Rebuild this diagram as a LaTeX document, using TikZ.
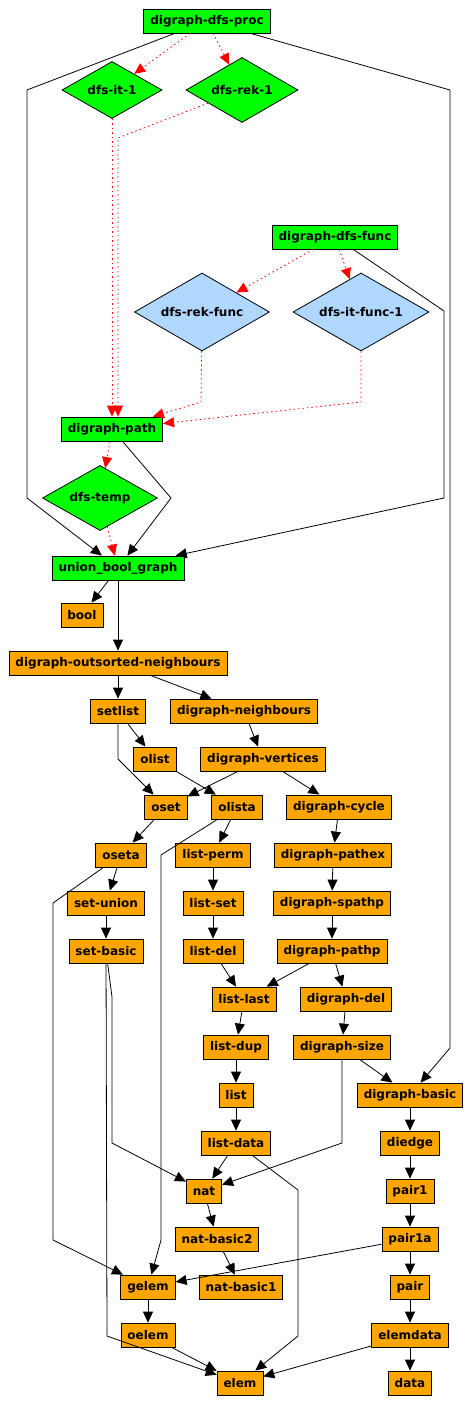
\documentclass[tikz,border=0pt]{standalone}
\usepackage{fontspec}
\setmainfont{DejaVu Sans}
\usepackage{tikz}
\usetikzlibrary{arrows.meta,shapes.geometric}
\definecolor{modgreen}{RGB}{0,255,0}
\definecolor{modorange}{RGB}{255,165,0}
\definecolor{modblue}{RGB}{176,216,255}
\tikzset{
  mod/.style={draw, line width=0.8pt, fill=modorange, rectangle, minimum height=24pt, inner xsep=6.5pt, inner ysep=0pt,
    font=\fontsize{12}{14}\selectfont\bfseries},
  modg/.style={mod, fill=modgreen},
  alg/.style 2 args={draw, line width=0.8pt, fill=modgreen, diamond, aspect=1.75, inner sep=0pt, minimum width=#1, minimum height=#2,
    font=\fontsize{12}{14}\selectfont\bfseries},
  algb/.style 2 args={alg={#1}{#2}, fill=modblue},
  dep/.style={draw, line width=0.8pt, -{Triangle[length=11pt,width=10pt]}},
  depred/.style={dep, red, dash pattern=on 1.5pt off 3pt}
}
\begin{document}
\begin{tikzpicture}[x=1pt, y=-1pt]
\useasboundingbox (0,0) rectangle (472,1423);
\node[modg] (proc) at (207,21) {digraph-dfs-proc};
\node[alg={100pt}{57pt}] (dfsit) at (112,90) {dfs-it-1};
\node[alg={112pt}{65pt}] (dfsrek) at (242,90) {dfs-rek-1};
\node[modg] (func) at (335,237) {digraph-dfs-func};
\node[algb={135pt}{78pt}] (rekfunc) at (202,312) {dfs-rek-func};
\node[algb={136pt}{78pt}] (itfunc) at (361,312) {dfs-it-func-1};
\node[modg] (path) at (112,429) {digraph-path};
\node[alg={115pt}{65pt}] (temp) at (100,498) {dfs-temp};
\node[modg] (ubg) at (118,568) {union\_bool\_graph};
\node[mod] (bool) at (82,615) {bool};
\node[mod] (dosn) at (118,663) {digraph-outsorted-neighbours};
\node[mod] (setlist) at (118,711) {setlist};
\node[mod] (dneigh) at (244,711) {digraph-neighbours};
\node[mod] (olist) at (155,759) {olist};
\node[mod] (dvert) at (263,759) {digraph-vertices};
\node[mod] (oset) at (166,807) {oset};
\node[mod] (olista) at (237,807) {olista};
\node[mod] (dcycle) at (339,807) {digraph-cycle};
\node[mod] (oseta) at (121,855) {oseta};
\node[mod] (lperm) at (213,855) {list-perm};
\node[mod] (dpathex) at (333,855) {digraph-pathex};
\node[mod] (setunion) at (106,903) {set-union};
\node[mod] (lset) at (213,903) {list-set};
\node[mod] (dspathp) at (332,903) {digraph-spathp};
\node[mod] (setbasic) at (106,951) {set-basic};
\node[mod] (ldel) at (213,951) {list-del};
\node[mod] (dpathp) at (332,951) {digraph-pathp};
\node[mod] (llast) at (244,999) {list-last};
\node[mod] (ddel) at (346,999) {digraph-del};
\node[mod] (ldup) at (236,1047) {list-dup};
\node[mod] (dsize) at (342,1047) {digraph-size};
\node[mod] (list) at (236,1095) {list};
\node[mod] (dbasic) at (410,1095) {digraph-basic};
\node[mod] (ldata) at (236,1143) {list-data};
\node[mod] (diedge) at (410,1143) {diedge};
\node[mod] (nat) at (204,1191) {nat};
\node[mod] (pairone) at (410,1191) {pair1};
\node[mod] (natbtwo) at (217,1239) {nat-basic2};
\node[mod] (paironea) at (410,1239) {pair1a};
\node[mod] (gelem) at (148,1287) {gelem};
\node[mod] (natbone) at (241,1287) {nat-basic1};
\node[mod] (pair) at (410,1287) {pair};
\node[mod] (oelem) at (148,1335) {oelem};
\node[mod] (elemdata) at (410,1335) {elemdata};
\node[mod] (elem) at (240,1383) {elem};
\node[mod] (data) at (410,1383) {data};

\draw[dep] (proc) -- (27,90) -- (27,498) -- (ubg);
\draw[dep] (proc) -- (450,90) -- (450,1048) -- (dbasic);
\draw[depred] (proc) -- (dfsit);
\draw[depred] (proc) -- (dfsrek);
\draw[depred] (dfsit) -- (path);
\draw[depred] (dfsrek) -- (118,138) -- ([xshift=6pt]path.north);
\draw[dep] (func) -- (444,311) -- (444,498) -- (ubg);
\draw[depred] (func) -- (rekfunc);
\draw[depred] (func) -- (itfunc);
\draw[depred] (rekfunc) -- (201,402) -- (path);
\draw[depred] (itfunc) -- (361,402) -- (path);
\draw[dep] (path) -- (171,498) -- (ubg);
\draw[depred] (path) -- (temp);
\draw[depred] (temp) -- (ubg);
\draw[dep] (ubg) -- (bool);
\draw[dep] (ubg) -- (dosn);
\draw[dep] (dosn) -- (setlist);
\draw[dep] (dosn) -- (dneigh);
\draw[dep] (setlist) -- (olist);
\draw[dep] (setlist) -- (118,759) -- (oset);
\draw[dep] (olist) -- (olista);
\draw[dep] (dneigh) -- (dvert);
\draw[dep] (dvert) -- (oset);
\draw[dep] (dvert) -- (dcycle);
\draw[dep] (oset) -- (oseta);
\draw[dep] (olista) -- (161,855) -- (161,1240) -- (gelem);
\draw[dep] (olista) -- (lperm);
\draw[dep] (dcycle) -- (dpathex);
\draw[dep] (oseta) -- (53,903) -- (53,1240) -- (gelem);
\draw[dep] (oseta) -- (setunion);
\draw[dep] (setunion) -- (setbasic);
\draw[dep] (setbasic) -- (107,1336) -- (elem);
\draw[dep] (setbasic) -- (112,997) -- (112,1143) -- (nat);
\draw[dep] (lperm) -- (lset);
\draw[dep] (lset) -- (ldel);
\draw[dep] (ldel) -- (llast);
\draw[dep] (dpathex) -- (dspathp);
\draw[dep] (dspathp) -- (dpathp);
\draw[dep] (dpathp) -- (llast);
\draw[dep] (dpathp) -- (ddel);
\draw[dep] (llast) -- (ldup);
\draw[dep] (ddel) -- (dsize);
\draw[dep] (ldup) -- (list);
\draw[dep] (dsize) -- (dbasic);
\draw[dep] (dsize) -- (342,1143) -- (nat);
\draw[dep] (list) -- (ldata);
\draw[dep] (ldata) -- (nat);
\draw[dep] (ldata) -- (298,1190) -- (298,1336) -- (elem);
\draw[dep] (dbasic) -- (diedge);
\draw[dep] (diedge) -- (pairone);
\draw[dep] (pairone) -- (paironea);
\draw[dep] (nat) -- (natbtwo);
\draw[dep] (natbtwo) -- (natbone);
\draw[dep] (paironea) -- (pair);
\draw[dep] (paironea) -- (gelem);
\draw[dep] (gelem) -- (oelem);
\draw[dep] (oelem) -- (elem);
\draw[dep] (pair) -- (elemdata);
\draw[dep] (elemdata) -- (data);
\draw[dep] (elemdata) -- (elem);
\end{tikzpicture}
\end{document}
